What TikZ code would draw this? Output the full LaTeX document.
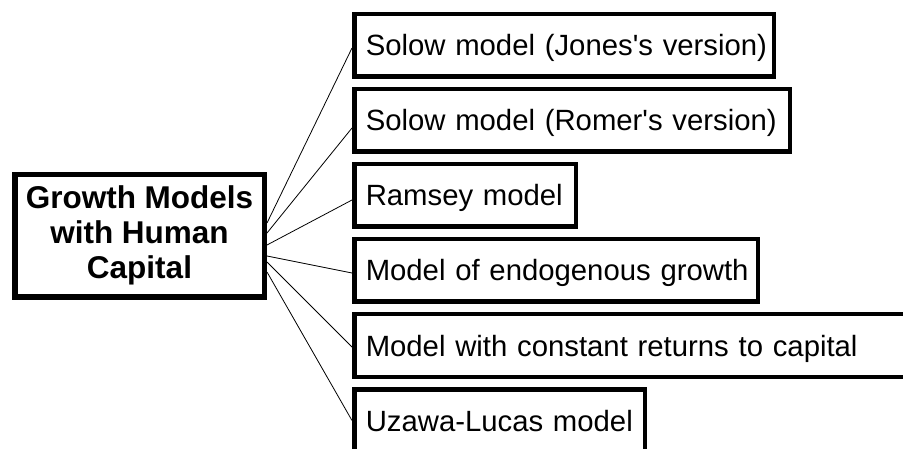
\documentclass[tikz,border=0pt]{standalone}
\usepackage{fontspec}
\setmainfont{Liberation Sans}[Ligatures=TeXOff]
\usetikzlibrary{calc}
\begin{document}
\begin{tikzpicture}[x=1pt,y=-1pt,
  leaf/.style={draw=black, line width=4.5pt, rectangle, minimum height=62.5pt,
    inner xsep=11.5pt, inner ysep=0pt, align=left,
    font=\fontsize{29.3pt}{34pt}\selectfont, text height=21pt, text depth=0pt},
  root/.style={draw=black, line width=5.5pt, rectangle, minimum width=249.5pt,
    minimum height=122.5pt, inner sep=0pt, align=center,
    font=\fontsize{31.5pt}{35pt}\selectfont\bfseries, text height=91pt, text depth=5pt},
  link/.style={draw=black, line width=0.8pt}]
\useasboundingbox (0,0) rectangle (903,449);
\node[root] (L) at (139.5,236) {Growth Models\\with Human\\Capital};
\node[leaf, minimum width=419.5pt, text width=396.5pt] (b1) at (564,45.5) {\mbox{Solow model (Jones's version)}};
\node[leaf, minimum width=435.5pt, text width=412.5pt] (b2) at (572,120.5) {\mbox{Solow model (Romer's version)}};
\node[leaf, minimum width=221.5pt, text width=198.5pt] (b3) at (465,195.5) {\mbox{Ramsey model}};
\node[leaf, minimum width=403.5pt, text width=380.5pt] (b4) at (556,270.5) {\mbox{Model of endogenous growth}};
\node[leaf, minimum width=558.5pt, text width=535.5pt] (b5) at (633.5,345.5) {\mbox{Model with constant returns to capital}};
\node[leaf, minimum width=290.5pt, text width=267.5pt] (b6) at (499.5,420.5) {\mbox{Uzawa-Lucas model}};
\draw[link] ([yshift=13pt]L.east) -- ([yshift=-2.5pt]b1.west);
\draw[link] ([yshift=3pt]L.east) -- ([yshift=-7.5pt]b2.west);
\draw[link] ([yshift=-9pt]L.east) -- ([yshift=-4.5pt]b3.west);
\draw[link] ([yshift=-20pt]L.east) -- ([yshift=-2.5pt]b4.west);
\draw[link] ([yshift=-26pt]L.east) -- ([yshift=-1.5pt]b5.west);
\draw[link] ([yshift=-36pt]L.east) -- (b6.west);
\end{tikzpicture}
\end{document}
